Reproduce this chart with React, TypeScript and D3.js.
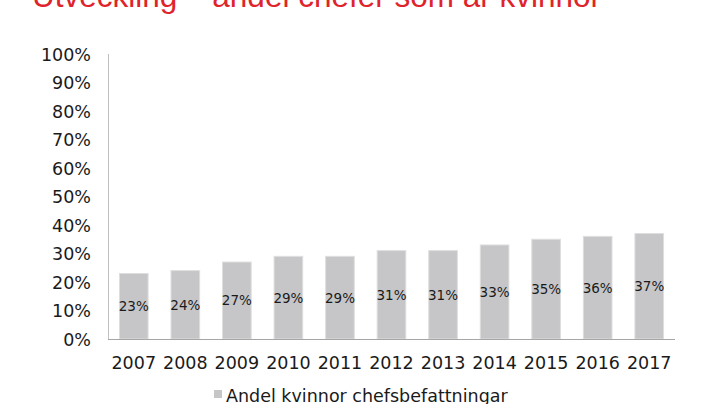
import React from "react";
import * as d3 from "d3";

const years = ["2007", "2008", "2009", "2010", "2011", "2012", "2013", "2014", "2015", "2016", "2017"];
const shares = [23, 24, 27, 29, 29, 31, 31, 33, 35, 36, 37];
const yTicks = [0, 10, 20, 30, 40, 50, 60, 70, 80, 90, 100];
const title = "Utveckling – andel chefer som är kvinnor";
const seriesName = "Andel kvinnor chefsbefattningar";

const W = 720;
const H = 404;
const FONT = "'DejaVu Sans', Verdana, sans-serif";

export default function App() {
  const x = d3.scaleBand<string>().domain(years).range([108, 675]).paddingInner(0.8 / 1.8).paddingOuter(0.4 / 1.8);
  const y = d3.scaleLinear().domain([0, 100]).range([339, 54]);

  return (
    <svg width={W} height={H} style={{ position: "absolute", left: 0, top: 0, background: "#fff" }}>
      <text x={32} y={6.5} fontFamily="'Liberation Sans', Arial, sans-serif" fontSize={31.5} fill="#e0232b">
        {title}
      </text>

      {yTicks.map((t) => (
        <text key={t} x={91} y={y(t)} dy="0.38em" textAnchor="end" fontFamily={FONT} fontSize={17.5} fill="#1a1a1a">
          {t}%
        </text>
      ))}

      {years.map((yr, i) => {
        const bx = x(yr)!;
        const by = y(shares[i]);
        return (
          <g key={yr}>
            <rect x={bx} y={by} width={x.bandwidth()} height={y(0) - by} fill="#c6c6c8" stroke="#dedede" strokeWidth={1} />
            <text
              x={bx + x.bandwidth() / 2}
              y={(by + y(0)) / 2}
              dy="0.36em"
              textAnchor="middle"
              fontFamily={FONT}
              fontSize={13.5}
              fill="#1a1a1a"
            >
              {shares[i]}%
            </text>
            <text x={bx + x.bandwidth() / 2} y={369} textAnchor="middle" fontFamily={FONT} fontSize={17.5} fill="#1a1a1a">
              {yr}
            </text>
          </g>
        );
      })}

      <line x1={108.5} x2={108.5} y1={54} y2={339} stroke="#c0c0c0" strokeWidth={1} />
      <line x1={108} x2={675} y1={339.5} y2={339.5} stroke="#a6a6a6" strokeWidth={1} />

      <rect x={214} y={390} width={8} height={8} fill="#c6c6c8" />
      <text x={226} y={401.5} fontFamily={FONT} fontSize={17.5} fill="#1a1a1a">
        {seriesName}
      </text>
    </svg>
  );
}
